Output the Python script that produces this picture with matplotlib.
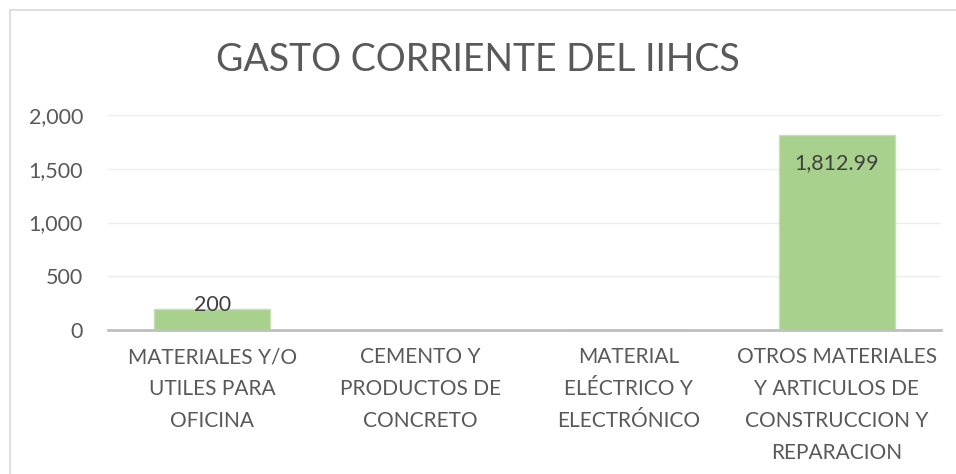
import matplotlib
matplotlib.use("Agg")
import matplotlib.pyplot as plt
from matplotlib.ticker import FuncFormatter
from matplotlib.lines import Line2D

categories = ["MATERIALES Y/O\nUTILES PARA\nOFICINA",
              "CEMENTO Y\nPRODUCTOS DE\nCONCRETO",
              "MATERIAL\nELÉCTRICO Y\nELECTRÓNICO",
              "OTROS MATERIALES\nY ARTICULOS DE\nCONSTRUCCION Y\nREPARACION"]
values = [200, 0, 0, 1812.99]
value_labels = ["200", "", "", "1,812.99"]
label_offsets_px = [3.5, 0, 0, -28]
yticks = [0, 500, 1000, 1500, 2000]

plt.rcParams['font.family'] = ['Lato', 'DejaVu Sans']
text_color = "#595959"

fig = plt.figure(figsize=(9.56, 4.74), dpi=100)
ax = fig.add_axes([108/956, 1-330/474, (941-108)/956, (330-115)/474])

x = list(range(len(categories)))
ax.bar(x, values, width=0.56, color="#A9D18E", edgecolor="#C5E0B4", linewidth=1.0, zorder=3)

ax.set_xlim(-0.5, len(categories) - 0.5)
ax.set_ylim(0, 2000)
ax.set_yticks(yticks)
ax.yaxis.set_major_formatter(FuncFormatter(lambda v, p: f"{v:,.0f}"))
ax.grid(axis='y', color="#EDEDED", linewidth=1.0, zorder=0)
for s in ["top", "right", "left"]:
    ax.spines[s].set_visible(False)
ax.spines["bottom"].set_color("#BFBFBF")
ax.spines["bottom"].set_linewidth(2.0)
ax.spines["bottom"].set_zorder(4)

ax.set_xticks(x)
ax.set_xticklabels(categories, fontsize=15, color=text_color, linespacing=1.74, va='top')
ax.tick_params(axis='x', length=0, pad=12.5)
ax.tick_params(axis='y', length=0, pad=18, labelsize=15.5, labelcolor=text_color)

for xi, v, lab, off in zip(x, values, value_labels, label_offsets_px):
    if lab:
        ax.annotate(lab, (xi, v), xytext=(0, off * 72 / 100), textcoords='offset points',
                    ha='center', va='center', fontsize=15.5, color="#404040", zorder=5)

fig.text(0.5, 1 - 60/474, "GASTO CORRIENTE DEL IIHCS", ha='center', va='center',
         fontsize=27, color=text_color, fontweight='normal')

# chart border (left and top edges visible)
fig.add_artist(Line2D([10/956, 10/956], [0, 1 - 10/474], transform=fig.transFigure,
                      color="#D9D9D9", linewidth=1.2))
fig.add_artist(Line2D([10/956, 1], [1 - 10/474, 1 - 10/474], transform=fig.transFigure,
                      color="#D9D9D9", linewidth=1.2))

fig.savefig("out.png", dpi=100)
